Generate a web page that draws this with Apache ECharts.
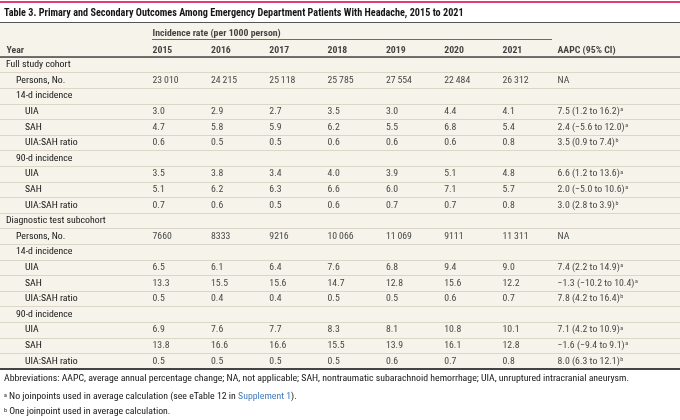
<!DOCTYPE html>
<html><head><meta charset="utf-8">
<script src="https://cdn.jsdelivr.net/npm/echarts@6/dist/echarts.min.js"></script>
<style>html,body{margin:0;padding:0;background:#fff}#c{width:680px;height:420px}</style>
</head><body><div id="c"></div>
<script>
// ---------- data ----------
const years = ['2015','2016','2017','2018','2019','2020','2021'];
const headerYear = 'Year';
const headerGroup = 'Incidence rate (per 1000 person)';
const headerAapc = 'AAPC (95% CI)';

const fullPersons   = [23010, 24215, 25118, 25785, 27554, 22484, 26312];
const full14UIA     = [3.0, 2.9, 2.7, 3.5, 3.0, 4.4, 4.1];
const full14SAH     = [4.7, 5.8, 5.9, 6.2, 5.5, 6.8, 5.4];
const full14Ratio   = [0.6, 0.5, 0.5, 0.6, 0.6, 0.6, 0.8];
const full90UIA     = [3.5, 3.8, 3.4, 4.0, 3.9, 5.1, 4.8];
const full90SAH     = [5.1, 6.2, 6.3, 6.6, 6.0, 7.1, 5.7];
const full90Ratio   = [0.7, 0.6, 0.5, 0.6, 0.7, 0.7, 0.8];
const diagPersons   = [7660, 8333, 9216, 10066, 11069, 9111, 11311];
const diag14UIA     = [6.5, 6.1, 6.4, 7.6, 6.8, 9.4, 9.0];
const diag14SAH     = [13.3, 15.5, 15.6, 14.7, 12.8, 15.6, 12.2];
const diag14Ratio   = [0.5, 0.4, 0.4, 0.5, 0.5, 0.6, 0.7];
const diag90UIA     = [6.9, 7.6, 7.7, 8.3, 8.1, 10.8, 10.1];
const diag90SAH     = [13.8, 16.6, 16.6, 15.5, 13.9, 16.1, 12.8];
const diag90Ratio   = [0.5, 0.5, 0.5, 0.5, 0.6, 0.7, 0.8];

const aapcFull = ['NA', '7.5 (1.2 to 16.2)', '2.4 (\u22125.6 to 12.0)', '3.5 (0.9 to 7.4)',
                  '6.6 (1.2 to 13.6)', '2.0 (\u22125.0 to 10.6)', '3.0 (2.8 to 3.9)'];
const aapcDiag = ['NA', '7.4 (2.2 to 14.9)', '\u22121.3 (\u221210.2 to 10.4)', '7.8 (4.2 to 16.4)',
                  '7.1 (4.2 to 10.9)', '\u22121.6 (\u22129.4 to 9.1)', '8.0 (6.3 to 12.1)'];
const aapcNotes = ['', 'a', 'a', 'b', 'a', 'a', 'b'];

const titleText = 'Table 3. Primary and Secondary Outcomes Among Emergency Department Patients With Headache, 2015 to 2021';
const footAbbr = 'Abbreviations: AAPC, average annual percentage change; NA, not applicable; SAH, nontraumatic subarachnoid hemorrhage; UIA, unruptured intracranial aneurysm.';
const footA = ['No joinpoints used in average calculation (see eTable 12 in ', 'Supplement 1', ').'];
const footB = 'One joinpoint used in average calculation.';

// ---------- build rows ----------
function block(name, persons, u14, s14, r14, u90, s90, r90, aapc) {
  return [
    {label: name, level: 0},
    {label: 'Persons, No.', level: 1, vals: persons, aapc: aapc[0], note: aapcNotes[0], isCount: true},
    {label: '14-d incidence', level: 1},
    {label: 'UIA', level: 2, vals: u14, aapc: aapc[1], note: aapcNotes[1]},
    {label: 'SAH', level: 2, vals: s14, aapc: aapc[2], note: aapcNotes[2]},
    {label: 'UIA:SAH ratio', level: 2, vals: r14, aapc: aapc[3], note: aapcNotes[3]},
    {label: '90-d incidence', level: 1},
    {label: 'UIA', level: 2, vals: u90, aapc: aapc[4], note: aapcNotes[4]},
    {label: 'SAH', level: 2, vals: s90, aapc: aapc[5], note: aapcNotes[5]},
    {label: 'UIA:SAH ratio', level: 2, vals: r90, aapc: aapc[6], note: aapcNotes[6]}
  ];
}
const rows = block('Full study cohort', fullPersons, full14UIA, full14SAH, full14Ratio, full90UIA, full90SAH, full90Ratio, aapcFull)
  .concat(block('Diagnostic test subcohort', diagPersons, diag14UIA, diag14SAH, diag14Ratio, diag90UIA, diag90SAH, diag90Ratio, aapcDiag));

// ---------- layout (pixel-scaled column starts) ----------
const FONT = '"Roboto Condensed", "Lato", sans-serif';
const FS = 9.8;
const colX = [152, 210.5, 268.8, 327, 385.4, 443.7, 502];
const aapcX = 557;
const labelX = 6;

function fmtCount(n) {
  const s = String(n);
  return n >= 10000 ? s.slice(0, s.length - 3) + '\u2009' + s.slice(-3) : s;
}

const cellData = [];
rows.forEach((r, i) => {
  if (!r.vals) return;
  r.vals.forEach((v, j) => {
    cellData.push([colX[j], i, r.isCount ? fmtCount(v) : v.toFixed(1), '']);
  });
  cellData.push([aapcX, i, r.aapc, r.note]);
});

const headData = years.map((y, j) => [colX[j], 1.65, y]);
headData.push([labelX, 1.65, headerYear]);
headData.push([aapcX, 1.65, headerAapc]);
headData.push([colX[0], 0.65, headerGroup]);

const BG = '#f6f3eb';
const TXT = '#151515';
const supStyle = {fontSize: 6, fontFamily: FONT, color: TXT, verticalAlign: 'top', padding: [0, 0, 4, 0]};

const chart = echarts.init(document.getElementById('c'), null, {renderer: 'canvas'});
chart.setOption({
  animation: false,
  textStyle: {fontFamily: FONT},
  title: [
    {text: titleText, left: 4, top: 8, padding: 0,
     textStyle: {fontFamily: FONT, fontSize: 10.2, fontWeight: 'bold', color: TXT}},
    {text: footAbbr, left: 4, top: 374, padding: 0,
     textStyle: {fontFamily: FONT, fontSize: FS, fontWeight: 'normal', color: TXT}},
    {text: '{sup|a}{t| ' + footA[0] + '}{link|' + footA[1] + '}{t|' + footA[2] + '}', left: 4, top: 392, padding: 0,
     textStyle: {fontFamily: FONT, fontSize: FS, fontWeight: 'normal', color: TXT,
       rich: {t: {fontSize: FS, fontFamily: FONT, color: TXT},
              link: {fontSize: FS, fontFamily: FONT, color: '#3f7cc0'},
              sup: supStyle}}},
    {text: '{sup|b}{t| ' + footB + '}', left: 4, top: 407, padding: 0,
     textStyle: {fontFamily: FONT, fontSize: FS, fontWeight: 'normal', color: TXT,
       rich: {t: {fontSize: FS, fontFamily: FONT, color: TXT}, sup: supStyle}}}
  ],
  graphic: [
    {type: 'rect', left: 0, top: 1, shape: {width: 680, height: 2}, style: {fill: '#de3f75'}, silent: true}
  ],
  grid: [
    {left: 0, right: 0, top: 22, height: 35, show: true, backgroundColor: BG, borderWidth: 0},
    {left: 0, right: 0, top: 57, height: 312, show: true, backgroundColor: BG, borderWidth: 0}
  ],
  xAxis: [
    {gridIndex: 0, type: 'value', min: 0, max: 680, position: 'top',
     axisLine: {show: true, lineStyle: {color: '#555', width: 1}}, axisTick: {show: false},
     axisLabel: {show: false}, splitLine: {show: false}},
    {gridIndex: 0, type: 'value', min: 0, max: 680, position: 'bottom',
     axisLine: {show: true, lineStyle: {color: '#444', width: 1.5}}, axisTick: {show: false},
     axisLabel: {show: false}, splitLine: {show: false}},
    {gridIndex: 1, type: 'value', min: 0, max: 680, position: 'bottom',
     axisLine: {show: true, lineStyle: {color: '#444', width: 2}}, axisTick: {show: false},
     axisLabel: {show: false}, splitLine: {show: false}}
  ],
  yAxis: [
    {gridIndex: 0, type: 'value', min: 0, max: 2, inverse: true, show: false},
    {gridIndex: 1, type: 'category', inverse: true, boundaryGap: true,
     data: rows.map(r => r.label),
     axisLine: {show: false}, axisTick: {show: false},
     axisLabel: {show: true, inside: true, interval: 0, margin: labelX, color: TXT, fontSize: FS, fontFamily: FONT,
       formatter: (v, i) => '{l' + rows[i].level + '|' + v + '}',
       rich: {l0: {fontSize: FS, fontFamily: FONT, color: TXT, padding: [0, 0, 0, 0]},
              l1: {fontSize: FS, fontFamily: FONT, color: TXT, padding: [0, 0, 0, 10]},
              l2: {fontSize: FS, fontFamily: FONT, color: TXT, padding: [0, 0, 0, 19]}}},
     splitLine: {show: true, interval: 0, lineStyle: {color: '#dcd6c8', width: 1}}}
  ],
  series: [
    {type: 'scatter', xAxisIndex: 0, yAxisIndex: 0, symbolSize: 1, silent: true,
     itemStyle: {color: 'rgba(0,0,0,0)'},
     data: headData,
     label: {show: true, position: 'right', distance: 0, color: TXT, fontSize: FS, fontFamily: FONT, fontWeight: 'bold',
       formatter: p => p.value[2]},
     markLine: {silent: true, symbol: 'none', label: {show: false},
       lineStyle: {color: '#6b6b6b', width: 1, type: 'solid'},
       data: [[{coord: [colX[0], 0.97]}, {coord: [aapcX - 5, 0.97]}]]}},
    {type: 'scatter', xAxisIndex: 2, yAxisIndex: 1, symbolSize: 1, silent: true,
     itemStyle: {color: 'rgba(0,0,0,0)'},
     data: cellData,
     label: {show: true, position: 'right', distance: 0, color: TXT, fontSize: FS, fontFamily: FONT,
       formatter: p => '{n|' + p.value[2] + '}' + (p.value[3] ? '{sup|' + p.value[3] + '}' : ''),
       rich: {n: {fontSize: FS, fontFamily: FONT, color: TXT},
              sup: {fontSize: 6, fontFamily: FONT, color: TXT, verticalAlign: 'top', padding: [0, 0, 4, 0.5]}}}}
  ]
});
</script></body></html>
